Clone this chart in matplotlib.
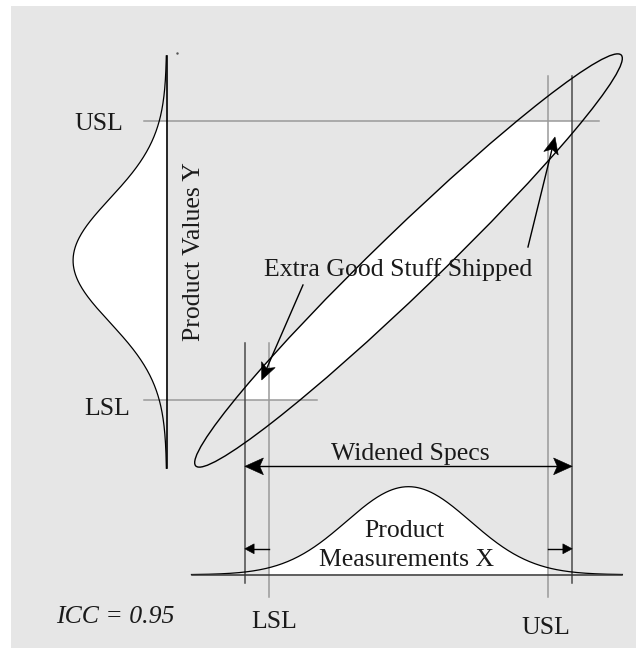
import numpy as np
import matplotlib
matplotlib.use("Agg")
import matplotlib.pyplot as plt
from matplotlib.patches import Ellipse, Rectangle, Polygon

plt.rcParams['font.family'] = ['Liberation Serif', 'DejaVu Serif']

# values in sigma units (process mean = 0, sigma = 1)
spec_limits = [-2.25, 2.25]          # LSL, USL
widened_limits = [-2.64, 2.64]       # widened specs
icc = 0.95
x_range = [-3.5, 3.45]               # tails of X measurement curve
y_range = [-3.35, 3.30]              # tails of Y value curve
x_peak_height = 1.42
y_peak_height = 1.51
ellipse_axes = [4.77, 0.50]          # semi-axes of the joint contour
ellipse_angle = 44.0
x_base = -5.068                      # baseline of X distribution
y_base = -3.90                       # baseline of Y distribution

# pixel layout: 62 px per sigma, centre at (408.5, 260.5)
PX = 62.0
W, H = 636, 648
CX, CY = 408.5, 260.5


def stealth(ax, start, tip, length, half_w, notch=0.2, lw=1.0):
    start = np.asarray(start, float)
    tip = np.asarray(tip, float)
    d = tip - start
    d /= np.hypot(*d)
    n = np.array([-d[1], d[0]])
    base = tip - d * length
    back = tip - d * length * (1 - notch)
    ax.add_patch(Polygon([tip, base + n * half_w, back, base - n * half_w],
                         closed=True, fc='black', ec='black', lw=0.4, zorder=6))
    return back


def arrow(ax, start, tip, length, half_w, notch=0.2, lw=1.0):
    back = stealth(ax, start, tip, length, half_w, notch)
    ax.plot([start[0], back[0]], [start[1], back[1]], color='black', lw=lw, zorder=5)


fig = plt.figure(figsize=(W / 100, H / 100), dpi=100)
ax = fig.add_axes([0, 0, 1, 1])
ax.set_xlim(-CX / PX, (W - CX) / PX)
ax.set_ylim((CY - H) / PX, CY / PX)
ax.axis('off')

ax.add_patch(Rectangle((11 / W, 0), 1 - 11 / W, (H - 6) / H, transform=ax.transAxes,
                       fc='#e6e6e6', ec='none', zorder=0))

lsl, usl = spec_limits
wl, wu = widened_limits
gray = '#9a9a9a'
dark = '#4a4a4a'

# joint contour: fill only inside widened x specs and y specs
fill = Ellipse((0, 0), 2 * ellipse_axes[0], 2 * ellipse_axes[1], angle=ellipse_angle,
               fc='white', ec='none', zorder=1)
ax.add_patch(fill)
clip = Rectangle((wl, lsl), wu - wl, usl - lsl, transform=ax.transData)
fill.set_clip_path(clip)
ax.add_patch(Ellipse((0, 0), 2 * ellipse_axes[0], 2 * ellipse_axes[1], angle=ellipse_angle,
                     fc='none', ec='black', lw=1.0, zorder=4))

# X measurement distribution
xs = np.linspace(x_range[0], x_range[1], 400)
px = x_base + x_peak_height * np.exp(-xs ** 2 / 2)
m = (xs >= lsl) & (xs <= usl)
ax.fill_between(xs[m], x_base, px[m], color='white', zorder=1)
ax.plot(xs, px, color='black', lw=0.9, zorder=3)
ax.plot(x_range, [x_base, x_base], color='#333333', lw=1.1, zorder=3)

# Y value distribution (sideways)
ys = np.linspace(y_range[0], y_range[1], 400)
py = y_base - y_peak_height * np.exp(-ys ** 2 / 2)
m = (ys >= lsl) & (ys <= usl)
ax.fill_betweenx(ys[m], py[m], y_base, color='white', zorder=1)
ax.plot(py, ys, color='black', lw=0.9, zorder=3)
ax.plot([y_base, y_base], y_range, color='black', lw=1.2, zorder=3)
ax.plot([-3.73], [3.35], marker='.', ms=1.5, color='#555555')

# spec lines for Y
ax.plot([-4.27, 3.08], [usl, usl], color=gray, lw=1.1, zorder=2)
ax.plot([-4.27, -1.476], [lsl, lsl], color=gray, lw=1.1, zorder=2)

# spec lines for X
ax.plot([lsl, lsl], [-1.33, -5.42], color=gray, lw=1.1, zorder=2)
ax.plot([usl, usl], [2.976, -5.42], color=gray, lw=1.1, zorder=2)
ax.plot([wl, wl], [-1.33, -5.197], color=dark, lw=1.1, zorder=2)
ax.plot([wu, wu], [2.976, -5.197], color=dark, lw=1.1, zorder=2)

# widened specs double arrow
yw = -3.32
ax.plot([wl + 0.2, wu - 0.2], [yw, yw], color='black', lw=1.0, zorder=5)
stealth(ax, (0, yw), (wl, yw), 0.30, 0.135, notch=0.2)
stealth(ax, (0, yw), (wu, yw), 0.30, 0.135, notch=0.2)

# small arrows from spec to widened spec
ys_small = -4.65
arrow(ax, (lsl, ys_small), (wl, ys_small), 0.15, 0.08, notch=0.0)
arrow(ax, (usl, ys_small), (wu, ys_small), 0.15, 0.08, notch=0.0)

# annotation arrows
arrow(ax, (-1.702, -0.395), (-2.368, -1.927), 0.27, 0.12, notch=0.25)
arrow(ax, (1.927, 0.218), (2.363, 1.992), 0.27, 0.12, notch=0.25)

tc = '#1a1a1a'
fs = 18.5
ax.text(-0.169, -0.25, 'Extra Good Stuff Shipped', fontsize=fs, color=tc,
        ha='center', va='baseline', zorder=7)
ax.text(0.024, -3.218, 'Widened Specs', fontsize=fs, color=tc, ha='center', va='baseline')
ax.text(-0.06, -4.455, 'Product', fontsize=fs, color=tc, ha='center', va='baseline')
ax.text(-0.024, -4.927, 'Measurements X', fontsize=fs, color=tc, ha='center', va='baseline')
ax.text(-3.46, 0.137, 'Product Values Y', fontsize=fs, color=tc, ha='center', va='center',
        rotation=90)
ax.text(-5.0, 2.105, 'USL', fontsize=fs, color=tc, ha='center', va='baseline')
ax.text(-4.855, -2.49, 'LSL', fontsize=fs, color=tc, ha='center', va='baseline')
ax.text(-2.169, -5.93, 'LSL', fontsize=fs, color=tc, ha='center', va='baseline')
ax.text(2.218, -6.03, 'USL', fontsize=fs, color=tc, ha='center', va='baseline')
ax.text(-4.734, -5.847, f'ICC = {icc:.2f}', fontsize=fs, color=tc, ha='center',
        va='baseline', style='italic')

fig.savefig('out.png', dpi=100, facecolor='white')
